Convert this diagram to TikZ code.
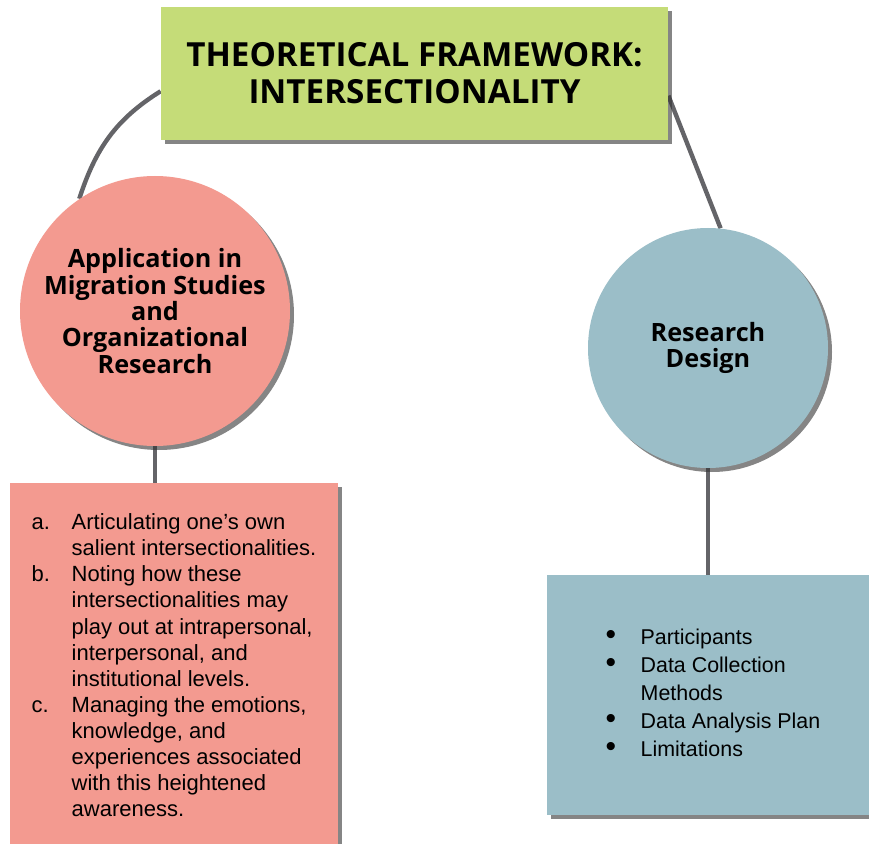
\documentclass[tikz,border=0pt]{standalone}
\usepackage{fontspec}
\setmainfont{Liberation Sans}
\newfontfamily\headfont{Open Sans}
\usetikzlibrary{shadows}
\usetikzlibrary{backgrounds}
\definecolor{framegreen}{RGB}{197,220,120}
\definecolor{salmon}{RGB}{243,154,144}
\definecolor{steelblue}{RGB}{155,190,200}
\definecolor{linkgray}{RGB}{100,100,104}
\newcommand{\listdot}{{\fontsize{15}{10}\selectfont\textbullet}}
\tikzset{
	boxnode/.style = {
		align=center,
		inner sep=0pt,
		text=black,
		drop shadow={shadow xshift=2pt, shadow yshift=-2pt, opacity=0.6, fill=black!80}
	},
	node_frame/.style = {
		boxnode,
		rectangle,
		fill=framegreen,
		minimum width=253.5pt,
		minimum height=66.5pt,
		font=\headfont\bfseries\fontsize{16.6}{18.5}\selectfont
	},
	node_topic/.style = {
		boxnode,
		circle,
		font=\headfont\bfseries\fontsize{12.6}{13.2}\selectfont
	},
	node_list/.style = {
		boxnode,
		rectangle,
		align=left,
		font=\fontsize{11}{13.05}\selectfont
	},
	link/.style = {
		draw=linkgray,
		line width=2.2pt
	},
}

\begin{document}
\begin{tikzpicture}[x=0.5pt, y=0.5pt]
\useasboundingbox (0,0) rectangle (869,843);
\node [node_frame] (title) at (414.5,769.5) {THEORETICAL FRAMEWORK:\\INTERSECTIONALITY};
\node [node_topic, fill=salmon, minimum size=135pt] (lc) at (155,532)
	{Application in\\Migration Studies\\and\\Organizational\\Research};
\node [node_topic, fill=steelblue, minimum size=120pt] (rc) at (708,495) {Research\\Design};
\node [node_list, fill=salmon, minimum width=164pt, minimum height=185pt] (lbox) at (174,175) {%
	\begin{tabular}{@{}p{20pt}@{}l@{}}
	a. & Articulating one's own\\
	   & salient intersectionalities.\\
	b. & Noting how these\\
	   & intersectionalities may\\
	   & play out at intrapersonal,\\
	   & interpersonal, and\\
	   & institutional levels.\\
	c. & Managing the emotions,\\
	   & knowledge, and\\
	   & experiences associated\\
	   & with this heightened\\
	   & awareness.
	\end{tabular}};
\node [node_list, fill=steelblue, minimum width=166pt, minimum height=120pt, font=\fontsize{10.7}{13.9}\selectfont] (rbox) at (713,148) {%
	\begin{tabular}{@{}p{17.5pt}@{}l@{}}
	\listdot & Participants\\
	\listdot & Data Collection\\
	         & Methods\\
	\listdot & Data Analysis Plan\\
	\listdot & Limitations
	\end{tabular}};
% connectors behind the shapes
\begin{scope}[on background layer]
	\draw [link] (lc.124) to[out=72,in=212] (title.184.4);
	\draw [link] (title.-5.5) -- (rc.84);
	\draw [link] (lc.south) -- (lc.south |- lbox.north);
	\draw [link] (rc.south) -- (rc.south |- rbox.north);
\end{scope}
\end{tikzpicture}
\end{document}
